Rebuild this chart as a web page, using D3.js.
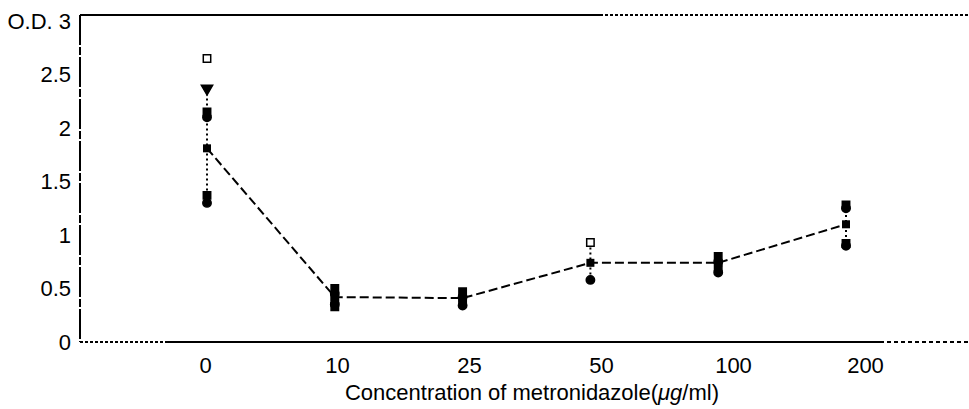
<!DOCTYPE html>
<html>
<head>
<meta charset="utf-8">
<script src="https://cdn.jsdelivr.net/npm/d3@7"></script>
<style>
  body { margin: 0; background: #fff; }
  svg { font-family: "Liberation Sans", Arial, sans-serif; }
</style>
</head>
<body>
<div id="plot"></div>
<script>
// concentrations (ug/ml) on the x axis
const concs = ["0", "10", "25", "50", "100", "200"];
// mean O.D. per concentration
const means = [1.81, 0.42, 0.41, 0.74, 0.74, 1.10];
// error bar ends (low, high)
const errLow  = [1.28, 0.36, 0.36, 0.58, 0.66, 0.92];
const errHigh = [2.37, 0.48, 0.46, 0.93, 0.80, 1.28];
// individual replicate readings
const reps = [
  [2.65, 2.37, 2.15, 2.10, 1.37, 1.30],
  [0.50, 0.45, 0.40, 0.35, 0.33],
  [0.47, 0.42, 0.38, 0.34],
  [0.93, 0.58],
  [0.80, 0.75, 0.70, 0.65],
  [1.28, 1.25, 0.92, 0.90]
];
const yTicks = [0, 0.5, 1, 1.5, 2, 2.5, 3];

const width = 969, height = 409;
const fLeft = 80, fRight = 968, fTop = 15, fBottom = 342;
const fontSize = 22;

const svg = d3.select("#plot").append("svg")
  .attr("width", width)
  .attr("height", height);

const y = d3.scaleLinear().domain([0, 3]).range([342, 21]);
// labels and marks are slightly out of step in the scanned figure
const xLab = d3.scalePoint().domain(concs).range([205, 865]);
const xPt = d3.scalePoint().domain(concs).range([207, 846]);

// frame
const frame = svg.append("g").attr("stroke", "#000").attr("fill", "none");
frame.append("line").attr("x1", fLeft).attr("x2", fLeft).attr("y1", fTop).attr("y2", fBottom)
  .attr("stroke-width", 2).attr("stroke-dasharray", "30,2,8,2");
frame.append("line").attr("x1", fLeft).attr("x2", 600).attr("y1", fTop).attr("y2", fTop)
  .attr("stroke-width", 2);
frame.append("line").attr("x1", 600).attr("x2", fRight).attr("y1", fTop).attr("y2", fTop)
  .attr("stroke-width", 2).attr("stroke-dasharray", "3,2");
frame.append("line").attr("x1", fLeft).attr("x2", 165).attr("y1", fBottom).attr("y2", fBottom)
  .attr("stroke-width", 2).attr("stroke-dasharray", "3,2");
frame.append("line").attr("x1", 165).attr("x2", 880).attr("y1", fBottom).attr("y2", fBottom)
  .attr("stroke-width", 2);
frame.append("line").attr("x1", 880).attr("x2", fRight).attr("y1", fBottom).attr("y2", fBottom)
  .attr("stroke-width", 2).attr("stroke-dasharray", "4,3");

// y axis labels
const yAxis = svg.append("g")
  .attr("transform", "translate(" + fLeft + ",0)")
  .call(d3.axisLeft(y).tickValues(yTicks).tickSize(0).tickPadding(9)
    .tickFormat(d => d === 3 ? "O.D. 3" : d3.format("~g")(d)));
yAxis.select(".domain").remove();
yAxis.selectAll("text").attr("font-size", fontSize).attr("fill", "#000")
  .attr("font-family", "Liberation Sans, Arial, sans-serif");

// x axis labels
const xAxis = svg.append("g")
  .attr("transform", "translate(0," + fBottom + ")")
  .call(d3.axisBottom(xLab).tickSize(0).tickPadding(15));
xAxis.select(".domain").remove();
xAxis.selectAll("text").attr("font-size", fontSize).attr("fill", "#000")
  .attr("font-family", "Liberation Sans, Arial, sans-serif");

const title = svg.append("text")
  .attr("x", 532).attr("y", 400)
  .attr("text-anchor", "middle")
  .attr("font-size", fontSize);
title.append("tspan").text("Concentration of metronidazole(");
title.append("tspan").attr("font-style", "italic").text("μg");
title.append("tspan").text("/ml)");

// error bars
svg.append("g").selectAll("line")
  .data(concs)
  .join("line")
  .attr("x1", d => xPt(d)).attr("x2", d => xPt(d))
  .attr("y1", (d, i) => y(errHigh[i])).attr("y2", (d, i) => y(errLow[i]))
  .attr("stroke", "#000").attr("stroke-width", 2).attr("stroke-dasharray", "2,3");

// mean line
const line = d3.line().x(d => xPt(d.c)).y(d => y(d.v));
svg.append("path")
  .datum(concs.map((c, i) => ({c: c, v: means[i]})))
  .attr("d", line)
  .attr("fill", "none").attr("stroke", "#000").attr("stroke-width", 2)
  .attr("stroke-dasharray", "9,4");

// replicate points
const repData = [];
reps.forEach((vals, i) => vals.forEach((v, j) => repData.push({c: concs[i], v: v, j: j, g: i})));
function markType(d) {
  if (d.j === 0 && (d.g === 0 || d.g === 3)) return d3.symbolSquare;
  if (d.j === 1 && d.g === 0) return d3.symbolTriangle;
  return d.j % 2 ? d3.symbolCircle : d3.symbolSquare;
}
svg.append("g").selectAll("path")
  .data(repData)
  .join("path")
  .attr("transform", d => "translate(" + xPt(d.c) + "," + y(d.v) + ")" + (d.j === 1 && d.g === 0 ? " rotate(180)" : ""))
  .attr("d", d => d3.symbol().type(markType(d)).size(55)())
  .attr("fill", d => d.j === 0 && (d.g === 0 || d.g === 3) ? "#fff" : "#000")
  .attr("stroke", "#000").attr("stroke-width", 1.5);

// mean markers
svg.append("g").selectAll("rect")
  .data(concs)
  .join("rect")
  .attr("x", d => xPt(d) - 4).attr("y", (d, i) => y(means[i]) - 4)
  .attr("width", 8).attr("height", 8)
  .attr("fill", "#000");
</script>
</body>
</html>
